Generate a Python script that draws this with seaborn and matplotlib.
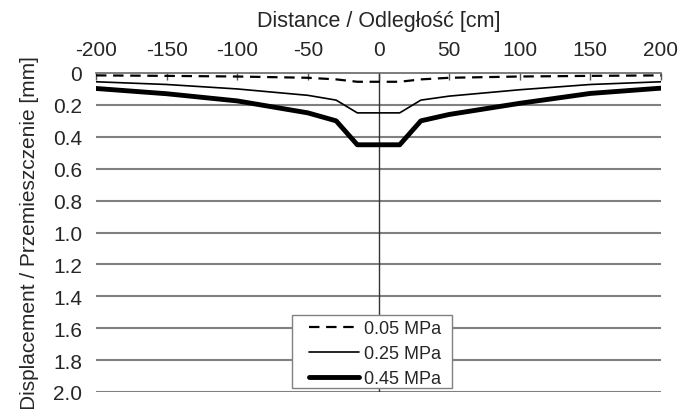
import matplotlib
matplotlib.use("Agg")
import matplotlib.pyplot as plt
from matplotlib.patches import Rectangle
import seaborn as sns
import pandas as pd

distance = [-200, -150, -100, -50, -30, -15, 15, 30, 50, 100, 150, 200]
disp_005 = [0.015, 0.018, 0.022, 0.03, 0.04, 0.055, 0.055, 0.04, 0.03, 0.022, 0.018, 0.015]
disp_025 = [0.055, 0.072, 0.10, 0.14, 0.17, 0.25, 0.25, 0.17, 0.145, 0.105, 0.072, 0.055]
disp_045 = [0.097, 0.13, 0.175, 0.25, 0.30, 0.45, 0.45, 0.30, 0.26, 0.19, 0.128, 0.095]
series_labels = ["0.05 MPa", "0.25 MPa", "0.45 MPa"]
x_ticks = [-200, -150, -100, -50, 0, 50, 100, 150, 200]
y_ticks = [0, 0.2, 0.4, 0.6, 0.8, 1.0, 1.2, 1.4, 1.6, 1.8, 2.0]
y_ticklabels = ["0", "0.2", "0.4", "0.6", "0.8", "1.0", "1.2", "1.4", "1.6", "1.8", "2.0"]

sns.set_theme(style="white")
plt.rcParams["font.family"] = ["Liberation Sans", "DejaVu Sans"]

df = pd.DataFrame({
    "x": distance * 3,
    "y": disp_005 + disp_025 + disp_045,
    "s": [series_labels[0]] * len(distance) + [series_labels[1]] * len(distance) + [series_labels[2]] * len(distance),
})

W, H = 691, 410
fig = plt.figure(figsize=(W / 100, H / 100), dpi=100)
ax = fig.add_axes([96 / W, 1 - 393 / H, (661 - 96) / W, (393 - 74) / H])

styles = {series_labels[0]: dict(ls=(0, (4.7, 3)), lw=1.6),
          series_labels[1]: dict(ls="-", lw=1.2),
          series_labels[2]: dict(ls="-", lw=3.5)}

for ytk in y_ticks[1:]:
    ax.axhline(ytk, color="#808080", lw=1.5, zorder=1)
ax.axvline(0, color="#333333", lw=1.0, zorder=1)

for lab in series_labels:
    sub = df[df["s"] == lab]
    sns.lineplot(data=sub, x="x", y="y", ax=ax, color="black",
                 linestyle=styles[lab]["ls"], linewidth=styles[lab]["lw"],
                 label=lab, zorder=3, sort=False)

ax.set_xlim(-200, 200)
ax.set_ylim(2.0, 0)
ax.xaxis.tick_top()
ax.xaxis.set_label_position("top")
ax.set_xticks(x_ticks)
ax.set_xticklabels([str(v) for v in x_ticks], fontsize=15)
ax.set_yticks(y_ticks)
ax.set_yticklabels(y_ticklabels, fontsize=15)
ax.tick_params(axis="x", direction="in", length=5, width=1, color="#555555", pad=10, top=True, bottom=False)
ax.tick_params(axis="y", length=0, pad=10)
ax.set_xlabel("Distance / Odległość [cm]", fontsize=15.5, labelpad=10)
ax.set_ylabel("Displacement / Przemieszczenie [mm]", fontsize=15, labelpad=10)

for side in ["left", "right", "bottom"]:
    ax.spines[side].set_visible(False)
ax.spines["top"].set_color("#666666")
ax.spines["top"].set_linewidth(1.2)

# legend frame box
box = Rectangle((292 / W, 1 - 389 / H), 160 / W, 73 / H, transform=fig.transFigure,
                facecolor="white", edgecolor="#808080", lw=1.0, zorder=4, clip_on=False)
ax.add_patch(box)

leg = ax.legend(loc="upper left", bbox_to_anchor=(309 / W, 1 - 321 / H),
                bbox_transform=fig.transFigure,
                frameon=False, fontsize=13, handlelength=2.75,
                borderpad=0, labelspacing=0.45, handletextpad=0.3, borderaxespad=0)
leg.set_zorder(5)

fig.savefig("out.png", dpi=100, facecolor="white")
